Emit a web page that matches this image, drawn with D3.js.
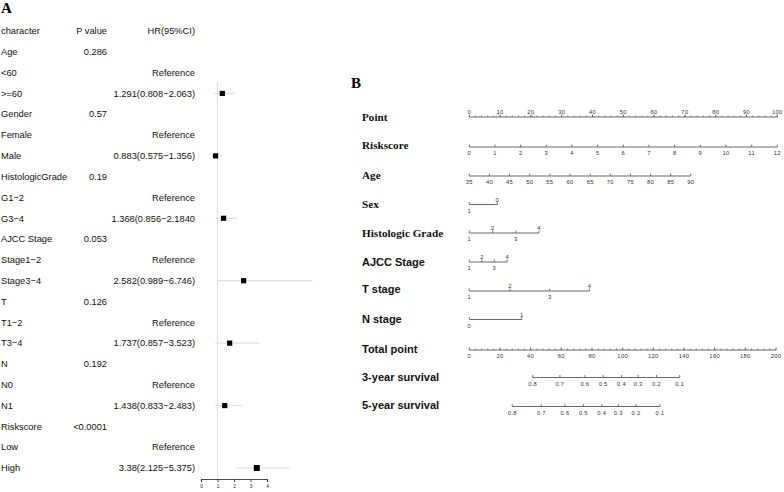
<!DOCTYPE html>
<html><head><meta charset="utf-8">
<script src="https://cdn.jsdelivr.net/npm/d3@7"></script>
<style>body{margin:0;background:#fff}svg{display:block}</style>
</head><body>
<script>
// ---------- Panel A data (forest plot) ----------
const rowLabels = ["Age","<60",">=60","Gender","Female","Male","HistologicGrade","G1\u22122","G3\u22124","AJCC Stage","Stage1\u22122","Stage3\u22124","T","T1\u22122","T3\u22124","N","N0","N1","Riskscore","Low","High"];
const pValues   = ["0.286","","","0.57","","","0.19","","","0.053","","","0.126","","","0.192","","","<0.0001","",""];
const hrText    = ["","Reference","1.291(0.808\u22122.063)","","Reference","0.883(0.575\u22121.356)","","Reference","1.368(0.856\u22122.1840","","Reference","2.582(0.989\u22126.746)","","Reference","1.737(0.857\u22123.523)","","Reference","1.438(0.833\u22122.483)","","Reference","3.38(2.125\u22125.375)"];
const hrEst     = [null,null,1.291,null,null,0.883,null,null,1.368,null,null,2.582,null,null,1.737,null,null,1.438,null,null,3.38];
const hrLow     = [null,null,0.808,null,null,0.575,null,null,0.856,null,null,0.989,null,null,0.857,null,null,0.833,null,null,2.125];
const hrHigh    = [null,null,2.063,null,null,1.356,null,null,2.184,null,null,6.746,null,null,3.523,null,null,2.483,null,null,5.375];
const forestTicks = [0,1,2,3,4];

// ---------- Panel B data (nomogram) ----------
const pointTicks = [0,10,20,30,40,50,60,70,80,90,100];
const riskValues = [0,1,2,3,4,5,6,7,8,9,10,11,12];
const riskPoints = [0,8.33,16.67,25,33.33,41.67,50,58.33,66.67,75,83.33,91.67,100];
const ageValues  = [35,40,45,50,55,60,65,70,75,80,85,90];
const agePoints  = [0,6.54,13.08,19.62,26.16,32.7,39.24,45.78,52.32,58.86,65.4,71.9];
const sexValues  = ["1","0"];
const sexPoints  = [0,9.1];
const gradeValues = ["1","2","3","4"];
const gradePoints = [0,7.6,15.1,22.6];
const ajccValues = ["1","2","3","4"];
const ajccPoints = [0,4.1,8.1,12.3];
const tValues = ["1","2","3","4"];
const tPoints = [0,13.2,26.1,39.0];
const nValues = ["0","1"];
const nPoints = [0,17.0];
const totalTicks = [0,20,40,60,80,100,120,140,160,180,200];
const surv3Values = ["0.8","0.7","0.6","0.5","0.4","0.3","0.2","0.1"];
const surv3Points = [41.3,59.1,75.4,87.3,99.3,110.1,122.1,137.2];
const surv5Values = ["0.8","0.7","0.6","0.5","0.4","0.3","0.2","0.1"];
const surv5Points = [28.0,47.0,62.4,74.4,86.4,97.2,108.7,124.3];

const W = 784, H = 492;
const svg = d3.select("body").append("svg").attr("width", W).attr("height", H);
svg.append("rect").attr("width", W).attr("height", H).attr("fill", "#fff");

const sans = "'Liberation Sans', Arial, sans-serif";
const serif = "'Liberation Serif', 'Times New Roman', serif";

// ================= Panel A =================
svg.append("text").attr("x", 1).attr("y", 13).attr("font-family", serif)
  .attr("font-weight", "bold").attr("font-size", 15).text("A");

const yRow = d3.scalePoint().domain(d3.range(rowLabels.length + 1)).range([31, 468]);
const xF = d3.scaleLinear().domain([0, 4]).range([201, 267]);
const gA = svg.append("g").attr("font-family", sans).attr("font-size", 9.3).attr("fill", "#111");

gA.append("text").attr("x", 1).attr("y", yRow(0)).attr("dy", "0.35em").text("character");
gA.append("text").attr("x", 107).attr("y", yRow(0)).attr("dy", "0.35em").attr("text-anchor", "end").text("P value");
gA.append("text").attr("x", 195).attr("y", yRow(0)).attr("dy", "0.35em").attr("text-anchor", "end").text("HR(95%CI)");

rowLabels.forEach((lab, i) => {
  const y = yRow(i + 1);
  gA.append("text").attr("x", 1).attr("y", y).attr("dy", "0.35em").text(lab);
  if (pValues[i]) gA.append("text").attr("x", 107).attr("y", y).attr("dy", "0.35em").attr("text-anchor", "end").text(pValues[i]);
  if (hrText[i]) gA.append("text").attr("x", 195).attr("y", y).attr("dy", "0.35em").attr("text-anchor", "end").text(hrText[i]);
});

const axisY = 479;
svg.append("line").attr("x1", xF(1)).attr("x2", xF(1)).attr("y1", 82).attr("y2", axisY)
  .attr("stroke", "#e2e2e2").attr("stroke-width", 1.2);

hrEst.forEach((est, i) => {
  if (est == null) return;
  const y = yRow(i + 1);
  svg.append("line").attr("x1", xF(hrLow[i])).attr("x2", xF(hrHigh[i])).attr("y1", y).attr("y2", y)
    .attr("stroke", "#e0e0e0").attr("stroke-width", 1.2);
  const s = i === 20 ? 6 : 5.2;
  svg.append("rect").attr("x", xF(est) - s / 2).attr("y", y - s / 2).attr("width", s).attr("height", s).attr("fill", "#000");
});

const fAxis = svg.append("g").attr("transform", `translate(0,${axisY})`)
  .call(d3.axisBottom(xF).tickValues(forestTicks).tickFormat(d3.format("d")).tickSize(3).tickPadding(3));
fAxis.select(".domain").attr("stroke", "#222").attr("stroke-width", 0.8);
fAxis.selectAll(".tick line").attr("stroke", "#222").attr("stroke-width", 0.8);
fAxis.selectAll("text").attr("font-size", 4.8).attr("font-family", sans).attr("fill", "#222");

// ================= Panel B =================
svg.append("text").attr("x", 351).attr("y", 88).attr("font-family", serif)
  .attr("font-weight", "bold").attr("font-size", 15).text("B");

const xP = d3.scaleLinear().domain([0, 100]).range([469.3, 777.3]);
const xT = d3.scaleLinear().domain([0, 200]).range([469.3, 776]);
const gB = svg.append("g");
const lineCol = "#444", tickFont = 5.8;

function rowLabel(text, y, isSerif) {
  gB.append("text").attr("x", 362).attr("y", y).attr("dy", "0.35em")
    .attr("font-family", isSerif ? serif : sans).attr("font-weight", "bold")
    .attr("font-size", isSerif ? 11.2 : 11).attr("fill", "#111").text(text);
}
function scaleRow(y, xs, labels, sides, minor) {
  gB.append("line").attr("x1", d3.min(xs)).attr("x2", d3.max(xs)).attr("y1", y).attr("y2", y)
    .attr("stroke", lineCol).attr("stroke-width", 0.8);
  if (minor) minor.forEach(x => gB.append("line").attr("x1", x).attr("x2", x).attr("y1", y).attr("y2", y - 1.5)
    .attr("stroke", lineCol).attr("stroke-width", 0.6));
  xs.forEach((x, i) => {
    gB.append("line").attr("x1", x).attr("x2", x).attr("y1", y).attr("y2", y - 2.5)
      .attr("stroke", lineCol).attr("stroke-width", 0.7);
    const above = sides[i] === "above";
    gB.append("text").attr("x", x).attr("y", above ? y - 5 : y + 6).attr("dy", "0.35em")
      .attr("text-anchor", "middle").attr("font-family", sans).attr("font-size", tickFont)
      .attr("letter-spacing", 0.3).attr("fill", "#333").text(labels[i]);
  });
}

rowLabel("Point", 117, true);
scaleRow(117, pointTicks.map(xP), pointTicks.map(String), pointTicks.map(() => "above"),
  d3.range(0, 101, 2).map(xP));
rowLabel("Riskscore", 145, true);
scaleRow(147, riskPoints.map(xP), riskValues.map(String), riskValues.map(() => "below"));
rowLabel("Age", 175, true);
scaleRow(176, agePoints.map(xP), ageValues.map(String), ageValues.map(() => "below"));
rowLabel("Sex", 204, true);
scaleRow(204.5, sexPoints.map(xP), sexValues, ["below", "above"]);
rowLabel("Histologic Grade", 233, true);
scaleRow(233, gradePoints.map(xP), gradeValues, ["below", "above", "below", "above"]);
rowLabel("AJCC Stage", 262, false);
scaleRow(262, ajccPoints.map(xP), ajccValues, ["below", "above", "below", "above"]);
rowLabel("T stage", 289, false);
scaleRow(291, tPoints.map(xP), tValues, ["below", "above", "below", "above"]);
rowLabel("N stage", 319, false);
scaleRow(319.5, nPoints.map(xP), nValues, ["below", "above"]);
rowLabel("Total point", 349, false);
scaleRow(350, totalTicks.map(xT), totalTicks.map(String), totalTicks.map(() => "below"),
  d3.range(0, 201, 4).map(xT));
rowLabel("3-year survival", 377, false);
scaleRow(377.5, surv3Points.map(xT), surv3Values, surv3Values.map(() => "below"));
rowLabel("5-year survival", 405, false);
scaleRow(406.5, surv5Points.map(xT), surv5Values, surv5Values.map(() => "below"));
</script>
</body></html>
